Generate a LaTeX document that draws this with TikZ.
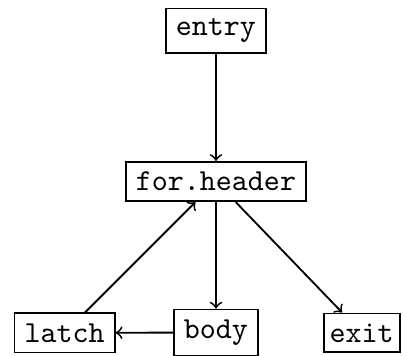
\documentclass[tikz,border=0pt]{standalone}
\usetikzlibrary{positioning}

\tikzset{
  block/.style={
    draw=black,
    semithick,
    fill=white,
    font=\ttfamily,
    inner sep=0.3333em
  },
  flow/.style={->, semithick}
}

\begin{document}
\begin{tikzpicture}
      \useasboundingbox (-2.49,-2.0) rectangle (2.156,2.093);

      % Loop header in the middle
      \node[block] (header) at (0,0) {for.header};

      % Blocks above and below the header
      \node[block] (entry) at (0,1.74) {entry};
      \node[block] (body) at (0,-1.74) {body};
      \node[block] (latch) at (-1.745,-1.745) {latch};
      \node[
        block,
        inner xsep=2pt
      ] (exit) at (1.68,-1.745) {exit};

      % Control flow edges
      \draw[flow] (entry) -- (header);
      \draw[flow] (header) -- (body);
      \draw[flow] (header) -- (exit);
      \draw[flow] (body) -- (latch);
      \draw[flow] (latch) -- (header);

    \end{tikzpicture}
\end{document}
